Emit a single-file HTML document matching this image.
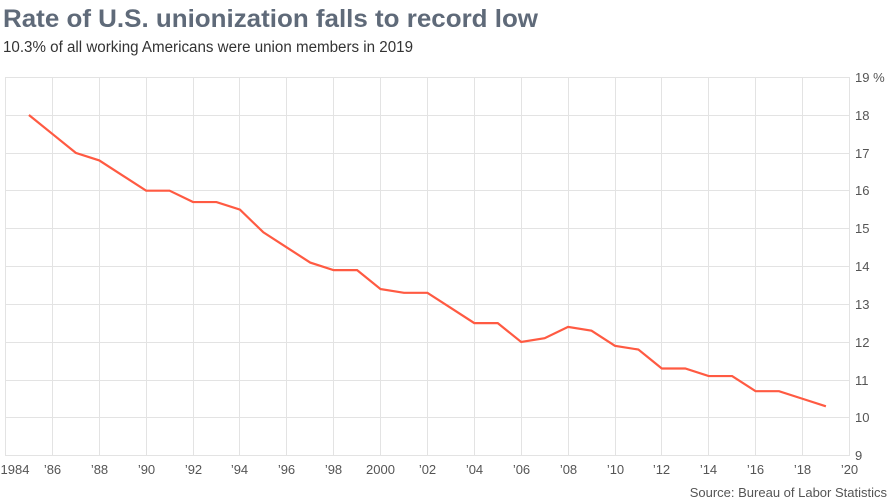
<!DOCTYPE html>
<html>
<head>
<meta charset="utf-8">
<style>
html,body{margin:0;padding:0;background:#fff;}
svg{display:block;}
</style>
</head>
<body>
<svg width="890" height="501" viewBox="0 0 890 501" xmlns="http://www.w3.org/2000/svg" font-family="'Liberation Sans', sans-serif">
<rect width="890" height="501" fill="#fff"/>
<text x="3" y="27" font-size="25" font-weight="bold" fill="#5f6a79" textLength="535" lengthAdjust="spacingAndGlyphs">Rate of U.S. unionization falls to record low</text>
<text x="3" y="52" font-size="15.5" fill="#333" textLength="410" lengthAdjust="spacingAndGlyphs">10.3% of all working Americans were union members in 2019</text>
<g stroke="#e3e3e3" stroke-width="1" fill="none">
<path d="M5.5 77.5H849.5M5.5 115.5H849.5M5.5 153.5H849.5M5.5 190.5H849.5M5.5 228.5H849.5M5.5 266.5H849.5M5.5 304.5H849.5M5.5 342.5H849.5M5.5 380.5H849.5M5.5 417.5H849.5M5.5 455.5H849.5"/>
<path d="M5.5 77V456M52.5 77V456M99.5 77V456M146.5 77V456M193.5 77V456M239.5 77V456M286.5 77V456M333.5 77V456M380.5 77V456M427.5 77V456M474.5 77V456M521.5 77V456M568.5 77V456M615.5 77V456M661.5 77V456M708.5 77V456M755.5 77V456M802.5 77V456M849.5 77V456"/>
</g>
<polyline fill="none" stroke="#ff5a42" stroke-width="2.2" stroke-linejoin="miter" points="28.94,115.03 52.38,133.94 75.82,152.86 99.26,160.43 122.70,175.56 146.14,190.69 169.58,190.69 193.02,202.04 216.46,202.04 239.90,209.60 263.34,232.30 286.78,247.43 310.22,262.57 333.66,270.13 357.10,270.13 380.54,289.05 403.98,292.83 427.42,292.83 450.86,307.96 474.30,323.09 497.74,323.09 521.18,342.01 544.62,338.23 568.06,326.88 591.50,330.66 614.94,345.79 638.38,349.58 661.82,368.49 685.26,368.49 708.70,376.06 732.14,376.06 755.58,391.19 779.02,391.19 802.46,398.75 825.90,406.32"/>
<g font-size="13" fill="#555">
<text x="855" y="82">19 %</text>
<text x="855" y="120">18</text>
<text x="855" y="158">17</text>
<text x="855" y="195">16</text>
<text x="855" y="233">15</text>
<text x="855" y="271">14</text>
<text x="855" y="309">13</text>
<text x="855" y="347">12</text>
<text x="855" y="385">11</text>
<text x="855" y="422">10</text>
<text x="855" y="460">9</text>
</g>
<g font-size="13" fill="#555" text-anchor="middle">
<text x="15" y="474">1984</text>
<text x="52.5" y="474">’86</text>
<text x="99.5" y="474">’88</text>
<text x="146.5" y="474">’90</text>
<text x="193.5" y="474">’92</text>
<text x="239.5" y="474">’94</text>
<text x="286.5" y="474">’96</text>
<text x="333.5" y="474">’98</text>
<text x="380.5" y="474">2000</text>
<text x="427.5" y="474">’02</text>
<text x="474.5" y="474">’04</text>
<text x="521.5" y="474">’06</text>
<text x="568.5" y="474">’08</text>
<text x="615.5" y="474">’10</text>
<text x="661.5" y="474">’12</text>
<text x="708.5" y="474">’14</text>
<text x="755.5" y="474">’16</text>
<text x="802.5" y="474">’18</text>
<text x="849.5" y="474">’20</text>
</g>
<text x="887" y="497" font-size="13" fill="#555" text-anchor="end">Source: Bureau of Labor Statistics</text>
</svg>
</body>
</html>
